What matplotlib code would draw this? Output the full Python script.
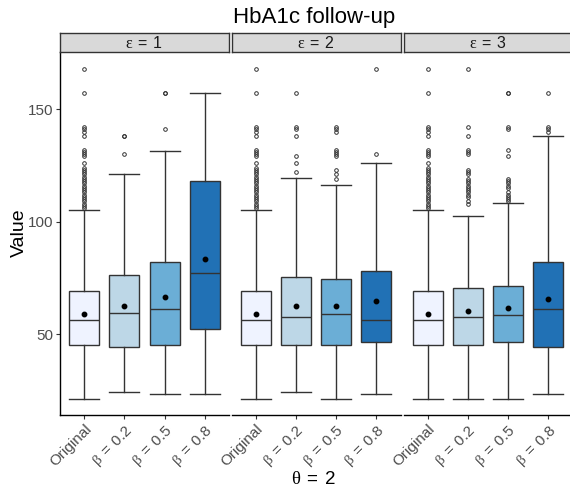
import matplotlib
matplotlib.use("Agg")
from matplotlib import pyplot as plt

plt.rcParams['font.family'] = ['Liberation Sans', 'DejaVu Sans']
# greek letters in a serif face, digits and signs in sans, like plotmath
plt.rcParams['mathtext.fontset'] = 'custom'
plt.rcParams['mathtext.rm'] = 'Liberation Sans'
plt.rcParams['mathtext.it'] = 'Liberation Serif'

# categories
groups = ["Original", r"$\beta\;=\;0.2$", r"$\beta\;=\;0.5$", r"$\beta\;=\;0.8$"]
facets = [r"$\varepsilon\;=\;1$", r"$\varepsilon\;=\;2$", r"$\varepsilon\;=\;3$"]
fills = ["#EFF3FF", "#BDD7E7", "#6BAED6", "#2171B5"]

# box statistics, one row per facet (eps = 1, 2, 3)
whisker_low = [[21.4, 24.4, 23.5, 23.5],
               [21.4, 24.4, 21.4, 23.5],
               [21.4, 21.4, 21.4, 23.5]]
q1 = [[45.3, 44.4, 45.3, 52.4],
      [45.3, 45.3, 45.3, 46.3],
      [45.3, 45.3, 46.3, 44.4]]
medians = [[56.4, 59.5, 61.3, 77.3],
           [56.4, 57.4, 58.9, 56.4],
           [56.4, 57.4, 58.3, 61.3]]
q3 = [[69.3, 76.2, 82.2, 118.2],
      [69.3, 75.3, 74.3, 78.2],
      [69.3, 70.3, 71.3, 82.2]]
whisker_high = [[105.3, 121.3, 131.2, 157.0],
                [105.3, 119.3, 116.3, 126.2],
                [105.3, 102.3, 108.2, 138.2]]
means = [[58.9, 62.6, 66.6, 83.5],
         [58.9, 62.4, 62.4, 64.8],
         [58.9, 60.2, 61.6, 65.4]]

orig_out = [168, 157, 142, 141, 140, 138, 132, 131, 130, 129, 126, 124, 123,
            122, 121, 120, 119, 118, 117, 116, 115, 114, 113, 112, 111, 110,
            109, 108, 107, 106]
outliers = [
    [orig_out, [138, 138, 130], [157, 157, 141], []],
    [orig_out, [157, 142, 141, 138, 129, 126, 122],
     [142, 141, 140, 132, 131, 130, 129, 123, 121, 119], [168, 130]],
    [orig_out, [168, 142, 138, 132, 131, 130, 123, 122, 121, 119, 118, 117,
                116, 115, 114, 113, 112, 111, 109, 108],
     [157, 157, 142, 141, 132, 129, 119, 118, 117, 116, 115, 113, 112, 111,
      110, 109], [157, 142, 141, 140]],
]

W, H = 570, 491
fig = plt.figure(figsize=(W / 100, H / 100), dpi=100)

# y range with 5% expansion like ggplot
all_vals = [v for row in whisker_low for v in row] + \
           [v for f in outliers for o in f for v in o]
lo, hi = min(all_vals), max(all_vals)
pad = (hi - lo) * 0.05

lefts = [60, 231.5, 403.5]
pw = 169
top, bottom = 52, 415
strip_h = 19
edge = "#333333"

for i in range(3):
    ax = fig.add_axes([lefts[i] / W, 1 - bottom / H, pw / W, (bottom - top) / H])
    stats = []
    for j in range(4):
        stats.append(dict(whislo=whisker_low[i][j], q1=q1[i][j], med=medians[i][j],
                          q3=q3[i][j], whishi=whisker_high[i][j], mean=means[i][j],
                          fliers=outliers[i][j]))
    bp = ax.bxp(stats, positions=[1, 2, 3, 4], widths=0.75, capwidths=0.75,
                patch_artist=True, showmeans=True,
                boxprops=dict(edgecolor=edge, linewidth=1.0),
                medianprops=dict(color=edge, linewidth=1.0),
                whiskerprops=dict(color=edge, linewidth=1.0),
                capprops=dict(color=edge, linewidth=1.0),
                meanprops=dict(marker='o', markerfacecolor='black',
                               markeredgecolor='black', markersize=3.2),
                flierprops=dict(marker='o', markerfacecolor='none',
                                markeredgecolor=edge, markersize=2.6,
                                markeredgewidth=0.7))
    for patch, c in zip(bp['boxes'], fills):
        patch.set_facecolor(c)

    ax.set_xlim(0.4, 4.6)
    ax.set_ylim(lo - pad, hi + pad)
    ax.set_xticks([1, 2, 3, 4])
    ax.set_xticklabels(groups, rotation=45, ha='right', va='top',
                       rotation_mode='anchor', fontsize=11, color='#4D4D4D')
    ax.tick_params(axis='x', length=3, color=edge, pad=2)
    for s in ['top', 'right']:
        ax.spines[s].set_visible(False)
    ax.spines['bottom'].set_color('black')
    ax.spines['bottom'].set_linewidth(1.0)
    if i == 0:
        ax.set_yticks([50, 100, 150])
        ax.set_yticklabels(["50", "100", "150"], fontsize=11, color='#4D4D4D')
        ax.tick_params(axis='y', length=3, color=edge, pad=2)
        ax.spines['left'].set_color('black')
        ax.spines['left'].set_linewidth(1.0)
    else:
        ax.set_yticks([])
        ax.spines['left'].set_visible(False)

    sx = fig.add_axes([lefts[i] / W, 1 - top / H, pw / W, strip_h / H])
    sx.set_facecolor('#D9D9D9')
    sx.set_xticks([])
    sx.set_yticks([])
    for s in sx.spines.values():
        s.set_color(edge)
        s.set_linewidth(1.0)
    sx.text(0.5, 0.5, facets[i], ha='center', va='center', fontsize=11.5,
            color='#1A1A1A', transform=sx.transAxes)

fig.text(314 / W, 1 - 17 / H, "HbA1c follow-up", ha='center', va='center',
         fontsize=16)
fig.text(19 / W, 1 - 233 / H, "Value", ha='center', va='center', rotation=90,
         fontsize=14)
fig.text(314 / W, 1 - 479 / H, r"$\theta\;=\;2$", ha='center', va='center',
         fontsize=13.5)

fig.savefig("out.png", dpi=100)
